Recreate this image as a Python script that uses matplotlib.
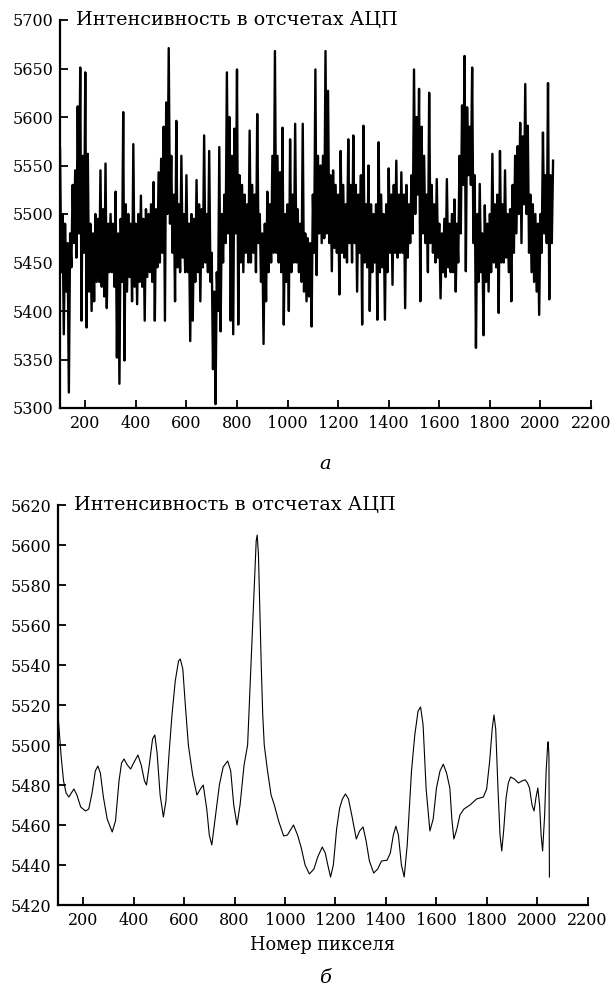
#Intensity spectra: raw (a) and smoothed (б)

import numpy as np
import matplotlib
matplotlib.use("Agg")
import matplotlib.pyplot as plt

plt.rcParams['font.family'] = ['DejaVu Serif']
plt.rcParams['font.size'] = 11.5

#Dados - raw signal, one value every 5 pixels starting at pixel 100
#(upper and lower excursions of the noise band)
x_start_a = 100
x_step_a = 5
intensity_a = [
    5568, 5440, 5500, 5376, 5490, 5420, 5470, 5316, 5480, 5445,
    5530, 5470, 5545, 5455, 5611, 5480, 5651, 5390, 5560, 5460,
    5646, 5383, 5562, 5420, 5490, 5400, 5480, 5410, 5500, 5430,
    5495, 5430, 5545, 5425, 5505, 5415, 5552, 5403, 5490, 5440,
    5500, 5440, 5490, 5425, 5523, 5352, 5480, 5325, 5495, 5430,
    5605, 5349, 5510, 5420, 5500, 5435, 5490, 5410, 5572, 5425,
    5490, 5407, 5500, 5430, 5519, 5425, 5495, 5390, 5505, 5435,
    5500, 5440, 5510, 5430, 5533, 5390, 5505, 5445, 5543, 5450,
    5557, 5460, 5590, 5390, 5615, 5500, 5671, 5490, 5560, 5460,
    5520, 5410, 5596, 5445, 5510, 5440, 5560, 5455, 5500, 5440,
    5540, 5440, 5490, 5369, 5500, 5390, 5495, 5430, 5535, 5440,
    5510, 5410, 5505, 5445, 5581, 5450, 5500, 5440, 5565, 5430,
    5460, 5340, 5420, 5304, 5440, 5400, 5569, 5379, 5500, 5450,
    5520, 5470, 5646, 5480, 5600, 5390, 5560, 5376, 5588, 5480,
    5649, 5386, 5540, 5450, 5530, 5440, 5520, 5460, 5510, 5450,
    5586, 5450, 5530, 5460, 5520, 5440, 5603, 5470, 5500, 5430,
    5480, 5366, 5490, 5410, 5523, 5440, 5510, 5450, 5560, 5460,
    5668, 5460, 5560, 5450, 5543, 5440, 5589, 5386, 5500, 5430,
    5510, 5400, 5577, 5440, 5520, 5450, 5593, 5450, 5505, 5440,
    5490, 5430, 5593, 5420, 5480, 5410, 5475, 5415, 5470, 5384,
    5520, 5460, 5649, 5437, 5560, 5480, 5550, 5470, 5560, 5475,
    5668, 5480, 5627, 5470, 5540, 5441, 5545, 5465, 5530, 5460,
    5520, 5417, 5565, 5460, 5530, 5455, 5510, 5450, 5577, 5470,
    5530, 5450, 5581, 5470, 5530, 5420, 5520, 5460, 5540, 5386,
    5591, 5450, 5510, 5445, 5550, 5400, 5510, 5440, 5500, 5450,
    5510, 5391, 5574, 5440, 5520, 5445, 5500, 5391, 5510, 5440,
    5547, 5460, 5520, 5427, 5530, 5460, 5555, 5455, 5520, 5460,
    5543, 5460, 5520, 5403, 5530, 5455, 5510, 5470, 5540, 5480,
    5649, 5500, 5600, 5520, 5629, 5410, 5590, 5480, 5560, 5470,
    5520, 5440, 5625, 5470, 5530, 5460, 5510, 5450, 5536, 5455,
    5490, 5413, 5480, 5440, 5495, 5435, 5536, 5445, 5490, 5440,
    5500, 5440, 5515, 5420, 5490, 5450, 5560, 5480, 5612, 5530,
    5663, 5441, 5610, 5540, 5590, 5530, 5651, 5470, 5540, 5362,
    5500, 5430, 5531, 5440, 5480, 5375, 5509, 5430, 5490, 5420,
    5500, 5440, 5562, 5450, 5510, 5445, 5520, 5398, 5565, 5450,
    5510, 5450, 5545, 5455, 5500, 5440, 5505, 5410, 5530, 5460,
    5560, 5480, 5570, 5500, 5594, 5470, 5580, 5510, 5634, 5500,
    5591, 5460, 5520, 5440, 5510, 5430, 5500, 5420, 5490, 5396,
    5500, 5460, 5584, 5480, 5540, 5470, 5635, 5412, 5540, 5470,
    5555,
]

#Dados - smoothed signal
pixel_b = [102, 112, 122, 132, 143, 153, 163, 175, 190, 209, 222, 235, 248, 258,
           268, 280, 295, 315, 328, 342, 352, 362, 375, 388, 400, 417, 430, 443,
           451, 462, 475, 484, 493, 505, 518, 528, 540, 552, 565, 578, 585, 595,
           605, 617, 634, 651, 665, 676, 690, 700, 710, 722, 740, 755, 773, 785,
           797, 810, 822, 838, 852, 862, 872, 880, 886, 890, 895, 900, 906, 912,
           918, 930, 945, 958, 975, 995, 1010, 1034, 1050, 1064, 1080, 1097, 1115,
           1130, 1148, 1160, 1170, 1181, 1192, 1205, 1217, 1228, 1240, 1252, 1265,
           1283, 1296, 1310, 1322, 1335, 1352, 1368, 1383, 1405, 1418, 1430, 1440,
           1450, 1462, 1473, 1485, 1502, 1515, 1528, 1538, 1548, 1560, 1575, 1588,
           1601, 1615, 1628, 1641, 1654, 1662, 1670, 1682, 1694, 1710, 1734, 1760,
           1787, 1800, 1812, 1822, 1829, 1836, 1845, 1853, 1860, 1868, 1877, 1886,
           1895, 1910, 1926, 1940, 1953, 1962, 1970, 1980, 1988, 1996, 2003, 2010,
           2016, 2022, 2030, 2036, 2042, 2044, 2047, 2049]
intensity_b = [5512, 5495, 5482, 5476, 5474, 5476, 5478, 5475, 5469, 5467, 5468,
               5476, 5487, 5489.5, 5486, 5474, 5463, 5456.5, 5462, 5482, 5491, 5493,
               5490, 5488, 5491, 5495, 5490, 5482, 5480, 5490, 5503, 5505, 5496,
               5475, 5464, 5472, 5495, 5515, 5532, 5542, 5543, 5538, 5520, 5500,
               5485, 5475, 5478, 5480, 5468, 5455, 5450, 5462, 5480, 5489, 5492,
               5487, 5470, 5460, 5470, 5490, 5500, 5530, 5560, 5585, 5602, 5605,
               5595, 5570, 5540, 5515, 5500, 5488, 5475, 5470, 5462, 5454.5, 5455,
               5460, 5455, 5449, 5440, 5435.5, 5438, 5444, 5449, 5446, 5440, 5434,
               5440, 5458, 5468.5, 5473, 5475.5, 5473, 5465, 5453, 5457, 5459,
               5452, 5442, 5436, 5438, 5442, 5442.4, 5446, 5455, 5459.4, 5455,
               5440, 5434, 5450, 5487, 5505, 5517, 5519, 5510, 5478, 5457, 5463,
               5478.5, 5487, 5490.4, 5486, 5478.5, 5463, 5453, 5458, 5465, 5468,
               5470, 5473, 5474, 5478, 5492, 5508, 5515, 5508, 5478, 5455, 5447,
               5458, 5473.5, 5481, 5484, 5483, 5481, 5482, 5482.6, 5481, 5478.5,
               5470, 5467, 5474, 5478.5, 5470, 5455, 5447, 5465, 5487, 5500,
               5501.6, 5495, 5434]

x_ticks = [200, 400, 600, 800, 1000, 1200, 1400, 1600, 1800, 2000, 2200]
y_ticks_a = [5300, 5350, 5400, 5450, 5500, 5550, 5600, 5650, 5700]
y_ticks_b = [5420, 5440, 5460, 5480, 5500, 5520, 5540, 5560, 5580, 5600, 5620]

y_label = "Интенсивность в отсчетах АЦП"
x_label = "Номер пикселя"

pixel_a = x_start_a + x_step_a * np.arange(len(intensity_a))

fig = plt.figure(figsize=(6.10, 9.86), dpi=100)

#Eixos
ax_a = fig.add_axes([60 / 610, 1 - 408 / 986, 531 / 610, 388 / 986])
ax_b = fig.add_axes([58 / 610, 1 - 905 / 986, 529.5 / 610, 400 / 986])


def style_axis(ax, yticks):
    ax.set_xlim(100, 2200)
    ax.set_ylim(yticks[0], yticks[-1])
    ax.set_xticks(x_ticks)
    ax.set_yticks(yticks)
    for side in ("top", "right"):
        ax.spines[side].set_visible(False)
    for side in ("left", "bottom"):
        ax.spines[side].set_linewidth(1.6)
    ax.tick_params(direction="in", length=6, width=1.3, pad=5)
    ax.text(0.03, 1.0, y_label, transform=ax.transAxes, va="center",
            ha="left", fontsize=13.8, clip_on=False)


#Plot a
ax_a.plot(pixel_a, intensity_a, color="black", lw=1.7)
style_axis(ax_a, y_ticks_a)

#Plot б
ax_b.plot(pixel_b, intensity_b, color="black", lw=0.8)
style_axis(ax_b, y_ticks_b)
ax_b.set_xlabel(x_label, labelpad=5, fontsize=12.8)

fig.text(325 / 610, 1 - 464 / 986, "а", style="italic", ha="center", va="center", fontsize=14)
fig.text(325 / 610, 1 - 978 / 986, "б", style="italic", ha="center", va="center", fontsize=14)

fig.savefig("out.png", dpi=100)
